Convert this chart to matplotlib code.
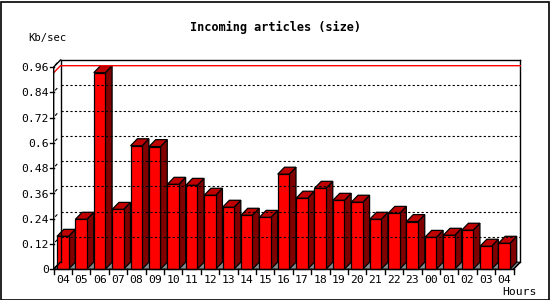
import matplotlib
matplotlib.use('Agg')
import matplotlib.pyplot as plt
from matplotlib.patches import Polygon, Rectangle

hours = ['04', '05', '06', '07', '08', '09', '10', '11', '12', '13', '14', '15', '16',
         '17', '18', '19', '20', '21', '22', '23', '00', '01', '02', '03', '04']
values = [0.156, 0.237, 0.933, 0.284, 0.586, 0.582, 0.403, 0.398, 0.351, 0.294, 0.256,
          0.246, 0.451, 0.337, 0.384, 0.327, 0.318, 0.237, 0.265, 0.226, 0.151, 0.161,
          0.185, 0.109, 0.123]
y_ticks = [0, 0.12, 0.24, 0.36, 0.48, 0.6, 0.72, 0.84, 0.96]
y_tick_labels = ['0', '0.12', '0.24', '0.36', '0.48', '0.6', '0.72', '0.84', '0.96']
title = 'Incoming articles (size)'
y_title = 'Kb/sec'
x_title = 'Hours'

W, H = 550, 300
fig = plt.figure(figsize=(W / 100, H / 100), dpi=100)
fig.patch.set_facecolor('white')

# front plot area in pixels (from top-left)
L, R, B, T = 53.7, 513.5, 269.2, 67.0
ax = fig.add_axes([L / W, 1 - B / H, (R - L) / W, (B - T) / H])
n = len(values)
ymax = y_ticks[-1]
ax.set_xlim(0, n)
ax.set_ylim(0, ymax)
ax.axis('off')

pxx = n / (R - L)
pxy = ymax / (B - T)
DX = 6.8 * pxx
DY = 7.0 * pxy

kw = dict(clip_on=False)
mono = 'DejaVu Sans Mono'

# back wall grid
for v in y_ticks[1:-1]:
    ax.plot([DX, n + DX], [v + DY, v + DY], color='black', lw=0.8,
            linestyle=(0, (2, 2)), **kw)
# back wall frame
ax.plot([DX, DX], [DY, ymax + DY], color='black', lw=1, **kw)
ax.plot([DX, n + DX], [ymax + DY, ymax + DY], color='black', lw=1, **kw)
ax.plot([n + DX, n + DX], [DY, ymax + DY], color='black', lw=1, **kw)

# max line
vmax = max(values)
ax.plot([0, DX, n + DX], [vmax, vmax + DY, vmax + DY], color='#ff0000', lw=1, **kw)

# floor
ax.add_patch(Polygon([(0, 0), (n, 0), (n + DX, DY), (DX, DY)], closed=True,
                     facecolor='#8c8c8c', edgecolor='black', lw=0.8, **kw))

# bars
b0, b1 = 0.18, 0.805
for i, v in enumerate(values):
    x0, x1 = i + b0, i + b1
    front = [(x0, 0), (x1, 0), (x1, v), (x0, v)]
    top = [(x0, v), (x1, v), (x1 + DX, v + DY), (x0 + DX, v + DY)]
    side = [(x1, 0), (x1 + DX, DY), (x1 + DX, v + DY), (x1, v)]
    ax.add_patch(Polygon(side, closed=True, facecolor='#800000', edgecolor='black',
                         lw=0.9, joinstyle='miter', **kw))
    ax.add_patch(Polygon(top, closed=True, facecolor='#c00000', edgecolor='black',
                         lw=0.9, joinstyle='miter', **kw))
    ax.add_patch(Polygon(front, closed=True, facecolor='#ff0000', edgecolor='black',
                         lw=0.9, joinstyle='miter', **kw))

# front axes
ax.plot([DX, 0, 0, DX], [ymax + DY, ymax, 0, DY], color='black', lw=1, **kw)
ax.plot([0, n], [0, 0], color='black', lw=1, **kw)
ax.plot([n, n + DX], [0, DY], color='black', lw=1, **kw)

# y ticks
for v, lab in zip(y_ticks, y_tick_labels):
    ax.plot([-3.5 * pxx, 0], [v, v], color='black', lw=1, **kw)
    ax.plot([1.8 * pxx, 3.2 * pxx], [v + 2.3 * pxy, v + 3.8 * pxy], color='black',
            lw=0.8, **kw)
    ax.text(-5 * pxx, v - 1.2 * pxy, lab, ha='right', va='center', fontsize=8.2,
            family=mono, **kw)

# x ticks
for i in range(n + 1):
    ax.plot([i, i], [0, -4.5 * pxy], color='black', lw=1, **kw)
for i, lab in enumerate(hours):
    ax.text(i + 0.5, -11 * pxy, lab, ha='center', va='center', fontsize=8.2,
            family=mono, **kw)

fig.text(275 / W, 1 - 27.5 / H, title, ha='center', va='center', fontsize=8.6,
         family=mono, fontweight='bold')
fig.text(28 / W, 1 - 37.5 / H, y_title, ha='left', va='center', fontsize=7.6,
         family=mono)
fig.text(519 / W, 1 - 292 / H, x_title, ha='center', va='center', fontsize=8.2,
         family=mono)

fig.add_artist(Rectangle((0.5 / W, 0.5 / H), (W - 2) / W, (H - 2) / H,
                         transform=fig.transFigure, fill=False, edgecolor='black',
                         lw=1.2))

fig.savefig('out.png', dpi=100, facecolor='white')
